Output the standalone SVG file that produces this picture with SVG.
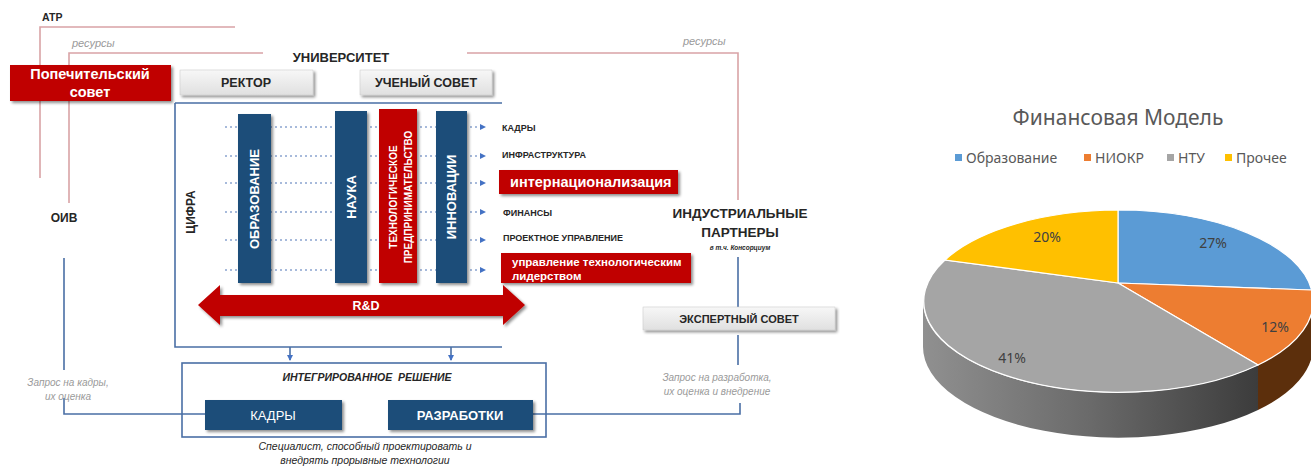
<svg xmlns="http://www.w3.org/2000/svg" width="1311" height="469" viewBox="0 0 1311 469">
<style>
text{font-family:"Liberation Sans","Noto Sans",Arial,sans-serif}
.b{font-weight:bold}
.dk{fill:#262626}
.wt{fill:#ffffff;font-weight:bold}
.it{font-style:italic}
.gr{fill:#9a9a9a;font-style:italic}
.red{stroke:#d9a3a6;stroke-width:1.6;fill:none}
.blu{stroke:#4a6fa5;stroke-width:1.6;fill:none}
.dot{stroke:#8aa4cf;stroke-width:1.4;stroke-dasharray:2 3;fill:none}
.navy{fill:#1f4e79}
.rbox{fill:#c00000}
.gbox{fill:url(#gg);stroke:#c8c8c8;stroke-width:0.5}
.pie text{font-family:"Noto Sans","Open Sans",sans-serif}
.pl{fill:#404040;font-size:14px}
.sm{font-size:9px;font-weight:bold;fill:#262626}
</style>
<defs>
<linearGradient id="gg" x1="0" y1="0" x2="0" y2="1"><stop offset="0" stop-color="#f7f7f7"/><stop offset="1" stop-color="#e0e0e0"/></linearGradient>
<linearGradient id="gside" x1="0" y1="0" x2="1" y2="0"><stop offset="0" stop-color="#909090"/><stop offset="0.5" stop-color="#6a6a6a"/><stop offset="1" stop-color="#3c3c3c"/></linearGradient>
<filter id="sh" x="-10%" y="-20%" width="125%" height="150%"><feGaussianBlur in="SourceAlpha" stdDeviation="1.5"/><feOffset dx="2" dy="2" result="o"/><feComponentTransfer><feFuncA type="linear" slope="0.45"/></feComponentTransfer><feMerge><feMergeNode/><feMergeNode in="SourceGraphic"/></feMerge></filter>
<marker id="ah" viewBox="0 0 6 6" refX="5" refY="3" markerWidth="6" markerHeight="6" orient="auto" markerUnits="userSpaceOnUse"><path d="M0,0 L6,3 L0,6 Z" fill="#4472c4"/></marker>
</defs>

<g id="connectors">
<path class="red" d="M235,27 H40 V178"/>
<path class="red" d="M263,53 H69 V203"/>
<path class="red" d="M467,53 H738 V200"/>
<path class="blu" d="M175,103 H502 M175,103 V347 H502"/>
<path class="blu" d="M290,347 V360" marker-end="url(#ah)"/>
<path class="blu" d="M451,347 V360" marker-end="url(#ah)"/>
<path class="blu" d="M64,258 V370 M64,398 V414 H205"/>
<path class="blu" d="M738,257 V307 M738,335 V365 M740,403 V414 H533"/>
<g id="dots">
<path class="dot" d="M225,127 H485" marker-end="url(#ah)"/>
<path class="dot" d="M225,156 H485" marker-end="url(#ah)"/>
<path class="dot" d="M225,183 H485" marker-end="url(#ah)"/>
<path class="dot" d="M225,212 H485" marker-end="url(#ah)"/>
<path class="dot" d="M225,240 H485" marker-end="url(#ah)"/>
<path class="dot" d="M225,270 H485" marker-end="url(#ah)"/>
</g>
</g>

<g id="atr"><text class="b dk" x="42" y="21" font-size="10.5">АТР</text></g>
<g id="res1"><text class="gr" x="72" y="47" font-size="11">ресурсы</text></g>
<g id="res2"><text class="gr" x="683" y="45" font-size="11">ресурсы</text></g>

<g id="popech">
<rect class="rbox" x="10" y="65" width="161" height="36" filter="url(#sh)"/>
<text class="wt" x="90" y="79" font-size="14.5" text-anchor="middle">Попечительский</text>
<text class="wt" x="90" y="97" font-size="14.5" text-anchor="middle">совет</text>
</g>
<g id="univ"><text class="b dk" x="341" y="62" font-size="13" text-anchor="middle">УНИВЕРСИТЕТ</text></g>
<g id="rektor">
<rect class="gbox" x="180" y="70" width="133" height="25" filter="url(#sh)"/>
<text class="b dk" x="246" y="87" font-size="12.5" text-anchor="middle">РЕКТОР</text>
</g>
<g id="uchsov">
<rect class="gbox" x="360" y="70" width="132" height="25" filter="url(#sh)"/>
<text class="b dk" x="426" y="87" font-size="12.5" text-anchor="middle">УЧЕНЫЙ СОВЕТ</text>
</g>
<g id="oiv"><text class="b dk" x="64" y="222" font-size="12" text-anchor="middle">ОИВ</text></g>
<g id="cifra"><text class="b dk" font-size="12" text-anchor="middle" transform="translate(195,212) rotate(-90)">ЦИФРА</text></g>

<g id="col-obr">
<rect class="navy" x="238" y="114" width="33" height="169" filter="url(#sh)"/>
<text class="wt" font-size="13" text-anchor="middle" transform="translate(259,199) rotate(-90)">ОБРАЗОВАНИЕ</text>
</g>
<g id="col-nauka">
<rect class="navy" x="335" y="111" width="32" height="172" filter="url(#sh)"/>
<text class="wt" font-size="13" text-anchor="middle" transform="translate(356,197) rotate(-90)">НАУКА</text>
</g>
<g id="col-tech">
<rect class="rbox" x="379" y="109" width="38" height="174" filter="url(#sh)"/>
<text class="wt" font-size="10" text-anchor="middle" transform="translate(397,197) rotate(-90)">ТЕХНОЛОГИЧЕСКОЕ</text>
<text class="wt" font-size="10" text-anchor="middle" transform="translate(412,197) rotate(-90)">ПРЕДПРИНИМАТЕЛЬСТВО</text>
</g>
<g id="col-innov">
<rect class="navy" x="436" y="111" width="31" height="172" filter="url(#sh)"/>
<text class="wt" font-size="13" text-anchor="middle" transform="translate(456,197) rotate(-90)">ИННОВАЦИИ</text>
</g>

<g id="lbl-kadry"><text class="sm" x="502" y="131">КАДРЫ</text></g>
<g id="lbl-infra"><text class="sm" x="502" y="158">ИНФРАСТРУКТУРА</text></g>
<g id="lbl-inter">
<rect class="rbox" x="499" y="170" width="179" height="24" filter="url(#sh)"/>
<text class="wt" x="510" y="187" font-size="14.5">интернационализация</text>
</g>
<g id="lbl-fin"><text class="sm" x="503" y="216">ФИНАНСЫ</text></g>
<g id="lbl-proj"><text class="sm" x="503" y="241">ПРОЕКТНОЕ УПРАВЛЕНИЕ</text></g>
<g id="lbl-upr">
<rect class="rbox" x="501" y="253" width="190" height="30" filter="url(#sh)"/>
<text class="wt" x="512" y="266" font-size="11.5">управление технологическим</text>
<text class="wt" x="512" y="280" font-size="11.5">лидерством</text>
</g>

<g id="rd">
<path class="rbox" d="M198,305 L220,285 V295 H503 V285 L525,305 L503,325 V316 H220 V325 Z" filter="url(#sh)"/>
<text class="wt" x="366" y="310" font-size="12.5" text-anchor="middle">R&amp;D</text>
</g>

<g id="ind">
<text class="b dk" x="740" y="218" font-size="13.5" text-anchor="middle">ИНДУСТРИАЛЬНЫЕ</text>
<text class="b dk" x="740" y="237" font-size="13.5" text-anchor="middle">ПАРТНЕРЫ</text>
<text class="b dk it" x="740" y="250" font-size="6.5" text-anchor="middle">в т.ч. Консорциум</text>
</g>
<g id="expert">
<rect class="gbox" x="643" y="307" width="192" height="23" filter="url(#sh)"/>
<text class="dk" x="739" y="323" font-size="11" text-anchor="middle" font-weight="600">ЭКСПЕРТНЫЙ СОВЕТ</text>
</g>

<g id="integr">
<rect x="182" y="363" width="364" height="74" fill="none" stroke="#4a6fa5" stroke-width="1.6"/>
<text class="b it dk" x="367" y="381" font-size="10.5" text-anchor="middle">ИНТЕГРИРОВАННОЕ&#160; РЕШЕНИЕ</text>
</g>
<g id="kadry">
<rect class="navy" x="205" y="400" width="137" height="30" filter="url(#sh)"/>
<text x="273" y="420" font-size="13" text-anchor="middle" fill="#ffffff">КАДРЫ</text>
</g>
<g id="razr">
<rect class="navy" x="388" y="400" width="145" height="30" filter="url(#sh)"/>
<text class="wt" x="460" y="420" font-size="13" text-anchor="middle">РАЗРАБОТКИ</text>
</g>
<g id="spec">
<text class="it dk" x="365" y="450" font-size="10.5" text-anchor="middle">Специалист, способный проектировать и</text>
<text class="it dk" x="365" y="464" font-size="10.5" text-anchor="middle">внедрять прорывные технологии</text>
</g>
<g id="zapros1">
<text class="gr" x="68" y="386" font-size="10" text-anchor="middle">Запрос на кадры,</text>
<text class="gr" x="68" y="400" font-size="10" text-anchor="middle">их оценка</text>
</g>
<g id="zapros2">
<text class="gr" x="717" y="381" font-size="10" text-anchor="middle">Запрос на разработка,</text>
<text class="gr" x="717" y="395" font-size="10" text-anchor="middle">их оценка и внедрение</text>
</g>

<g id="pie" class="pie">
<text x="1118" y="125" font-size="21" fill="#595959" text-anchor="middle">Финансовая Модель</text>
<rect x="955" y="154" width="7" height="7" fill="#5b9bd5"/>
<text x="966" y="163" font-size="14" fill="#595959">Образование</text>
<rect x="1084" y="154" width="7" height="7" fill="#ed7d31"/>
<text x="1095" y="163" font-size="14" fill="#595959">НИОКР</text>
<rect x="1167" y="154" width="7" height="7" fill="#a5a5a5"/>
<text x="1178" y="163" font-size="14" fill="#595959">НТУ</text>
<rect x="1225" y="154" width="7" height="7" fill="#ffc000"/>
<text x="1236" y="163" font-size="14" fill="#595959">Прочее</text>
<path d="M923,301 A195,91 0 0 0 1258,365 V410 A195,91 0 0 1 923,346 Z" fill="url(#gside)"/>
<path d="M1258,365 A195,91 0 0 0 1313,301 V346 A195,91 0 0 1 1258,410 Z" fill="#5c2f0c"/>
<g stroke="#ffffff" stroke-width="1.2">
<path d="M1118,283 L1118,210 A195,91 0 0 1 1311.6,290 Z" fill="#5b9bd5"/>
<path d="M1118,283 L1311.6,290 A195,91 0 0 1 1258,365 Z" fill="#ed7d31"/>
<path d="M1118,283 L1258,365 A195,91 0 0 1 945,260 Z" fill="#a5a5a5"/>
<path d="M1118,283 L945,260 A195,91 0 0 1 1118,210 Z" fill="#ffc000"/>
</g>
<text class="pl" x="1213" y="248" text-anchor="middle">27%</text>
<text class="pl" x="1047" y="242" text-anchor="middle">20%</text>
<text class="pl" x="1275" y="332" text-anchor="middle">12%</text>
<text class="pl" x="1012" y="363" text-anchor="middle">41%</text>
</g>
</svg>
